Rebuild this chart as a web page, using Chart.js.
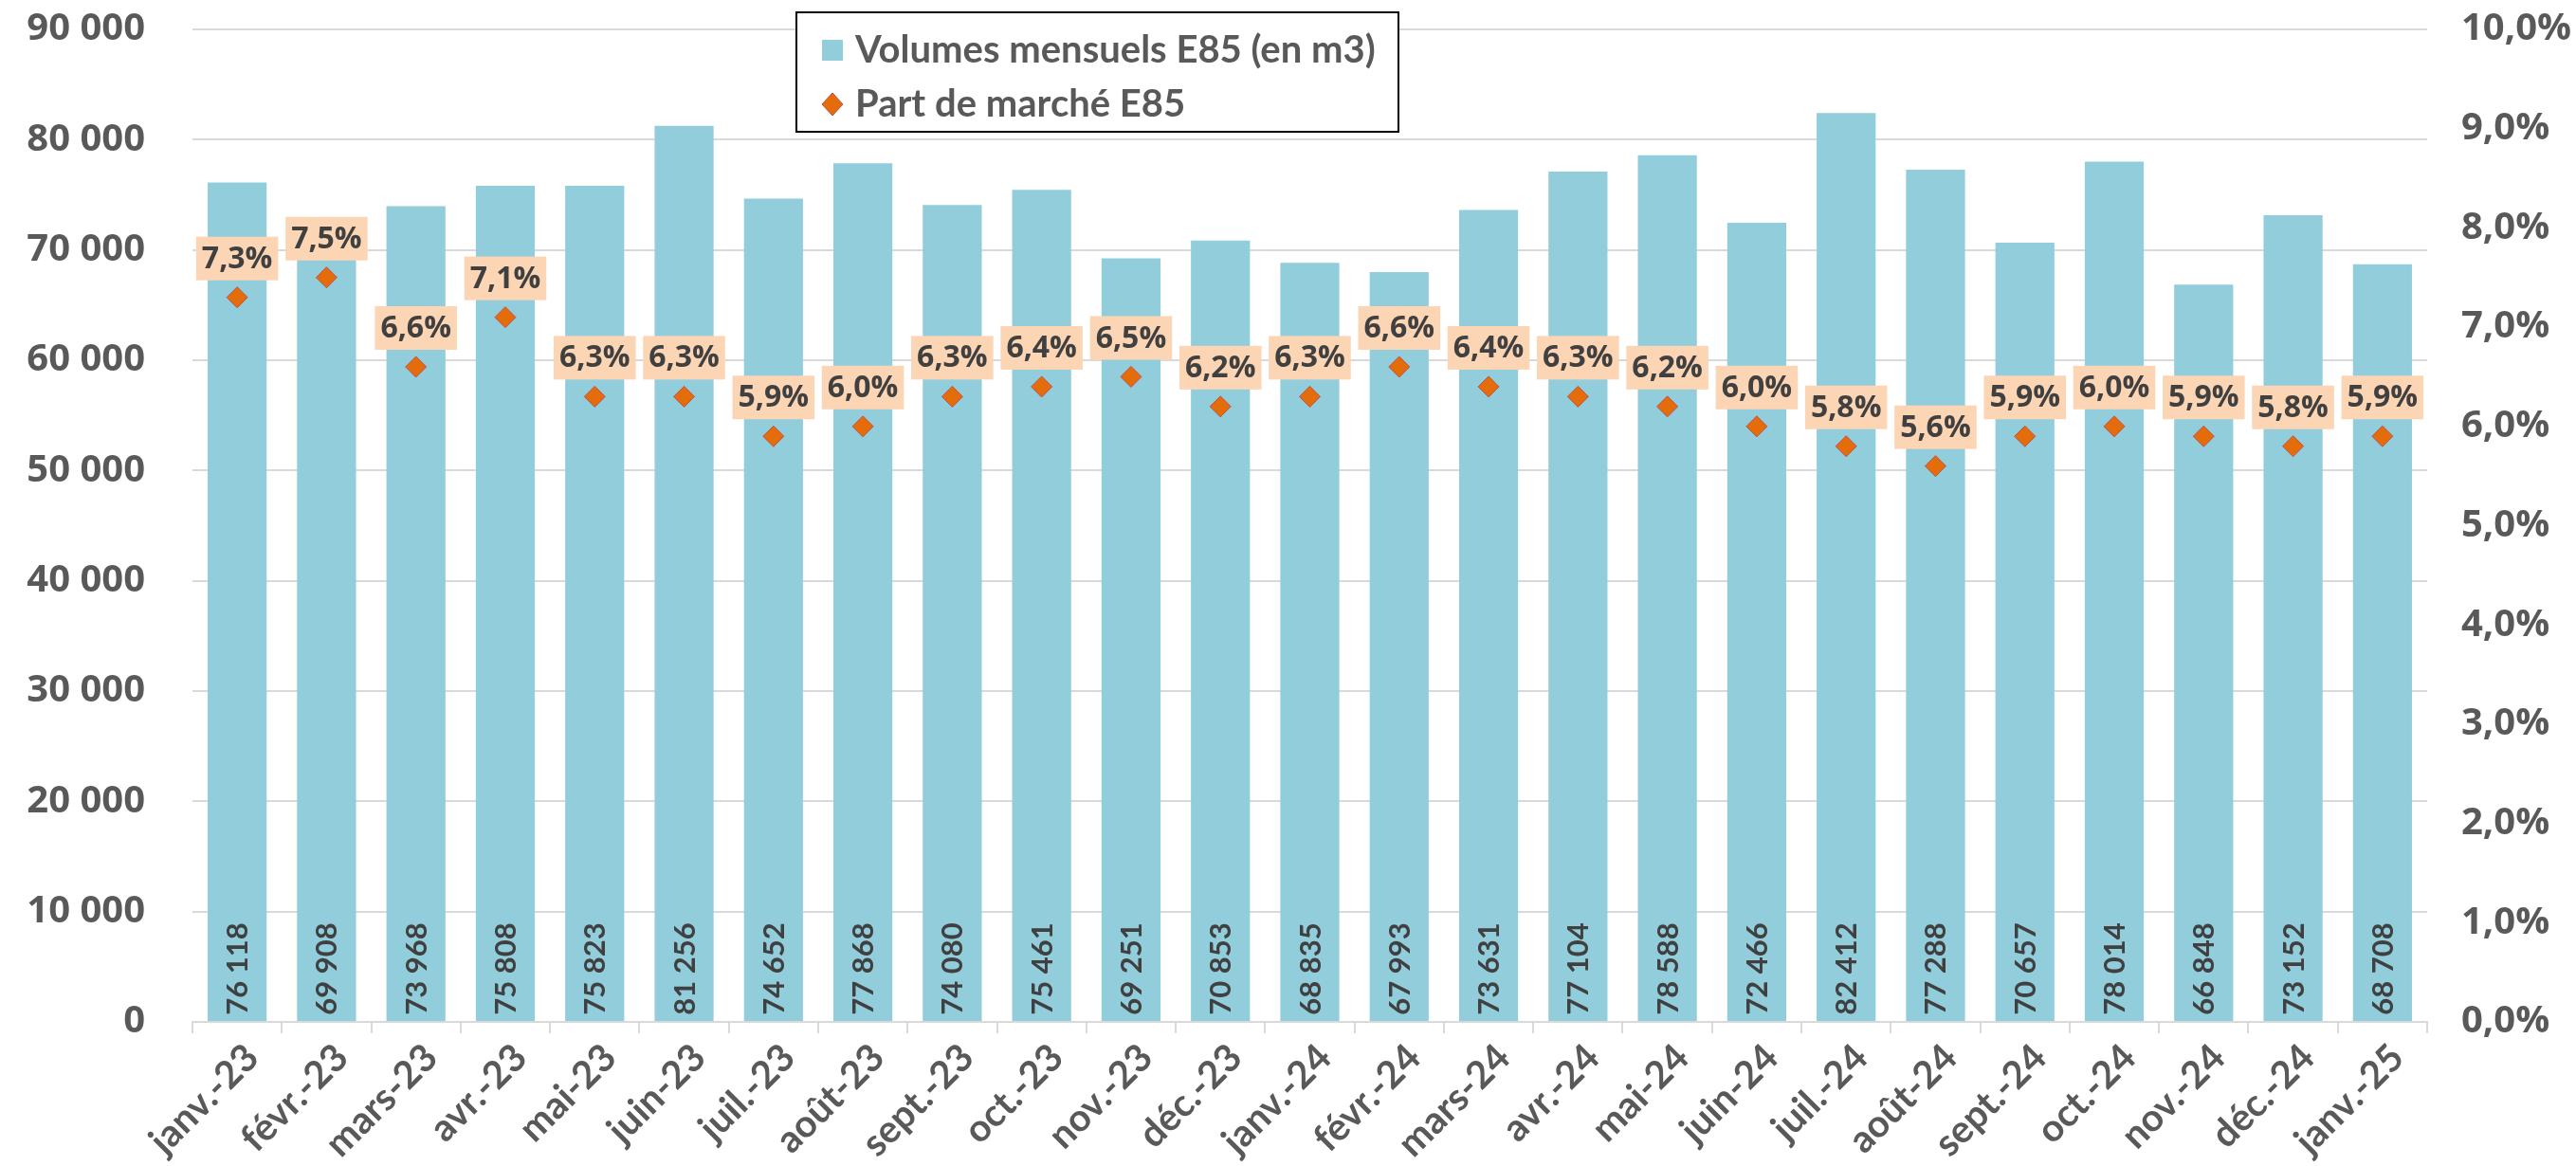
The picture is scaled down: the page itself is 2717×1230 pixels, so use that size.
<!DOCTYPE html>
<html lang="fr">
<head>
<meta charset="utf-8">
<title>E85 - volumes mensuels et part de marché</title>
<script src="https://cdn.jsdelivr.net/npm/chart.js@4/dist/chart.umd.min.js"></script>
<style>
    html, body { margin: 0; padding: 0; background: #fff; }
    #chart-wrap { width: 2717px; height: 1230px; }
</style>
</head>
<body>
<div id="chart-wrap"><canvas id="e85Chart" width="2717" height="1230"></canvas></div>
<script>
// Data
const months = [
    'janv.-23', 'févr.-23', 'mars-23', 'avr.-23', 'mai-23', 'juin-23',
    'juil.-23', 'août-23', 'sept.-23', 'oct.-23', 'nov.-23', 'déc.-23',
    'janv.-24', 'févr.-24', 'mars-24', 'avr.-24', 'mai-24', 'juin-24',
    'juil.-24', 'août-24', 'sept.-24', 'oct.-24', 'nov.-24', 'déc.-24',
    'janv.-25'
];
const volumes = [
    76118, 69908, 73968, 75808, 75823, 81256,
    74652, 77868, 74080, 75461, 69251, 70853,
    68835, 67993, 73631, 77104, 78588, 72466,
    82412, 77288, 70657, 78014, 66848, 73152,
    68708
];
const marketShare = [
    7.3, 7.5, 6.6, 7.1, 6.3, 6.3,
    5.9, 6.0, 6.3, 6.4, 6.5, 6.2,
    6.3, 6.6, 6.4, 6.3, 6.2, 6.0,
    5.8, 5.6, 5.9, 6.0, 5.9, 5.8,
    5.9
];
const volumeTicks = { min: 0, max: 90000, step: 10000 };
const shareTicks = { min: 0, max: 10, step: 1 };
const seriesNames = ['Volumes mensuels E85 (en m3)', 'Part de marché E85'];

const BAR_COLOR = '#92CDDC';
const POINT_COLOR = '#E46C0A';
const LABEL_BOX = '#FCD5B5';
const TEXT_DARK = '#404040';
const TEXT_GREY = '#595959';
const GRID = '#D9D9D9';

function fmtThousands(v) {
    return String(Math.round(v)).replace(/\B(?=(\d{3})+(?!\d))/g, ' ');
}

function fmtPct(v) {
    return v.toFixed(1).replace('.', ',') + '%';
}

// tick padding would otherwise push the plot top down
function noVerticalPadding(scale) {
    scale.paddingTop = 0;
    scale.paddingBottom = 0;
}

// Vertical volume labels near the bottom of each bar
const barValueLabels = {
    id: 'barValueLabels',
    afterDatasetsDraw(chart) {
        const ctx = chart.ctx;
        const meta = chart.getDatasetMeta(0);
        const yBase = chart.scales.y.getPixelForValue(0);
        ctx.save();
        ctx.font = 'bold 31px Lato';
        ctx.fillStyle = TEXT_DARK;
        ctx.textAlign = 'center';
        ctx.textBaseline = 'middle';
        meta.data.forEach((bar, i) => {
            ctx.save();
            ctx.translate(bar.x + 1, yBase - 56);
            ctx.rotate(-Math.PI / 2);
            ctx.fillText(fmtThousands(volumes[i]), 0, 0);
            ctx.restore();
        });
        ctx.restore();
    }
};

// Peach boxes with the market share above each diamond
const shareLabels = {
    id: 'shareLabels',
    afterDatasetsDraw(chart) {
        const ctx = chart.ctx;
        const meta = chart.getDatasetMeta(1);
        ctx.save();
        ctx.font = 'bold 32px "Open Sans"';
        ctx.textAlign = 'center';
        ctx.textBaseline = 'middle';
        meta.data.forEach((pt, i) => {
            const text = fmtPct(marketShare[i]);
            const w = ctx.measureText(text).width + 12;
            const h = 46;
            const cy = pt.y - 41;
            ctx.fillStyle = LABEL_BOX;
            ctx.fillRect(pt.x - w / 2, cy - h / 2, w, h);
            ctx.fillStyle = TEXT_DARK;
            ctx.fillText(text, pt.x, cy + 1);
        });
        ctx.restore();
    }
};

// Boxed legend sitting over the top of the plot
const boxedLegend = {
    id: 'boxedLegend',
    afterDraw(chart) {
        const ctx = chart.ctx;
        const box = { x: 840, y: 13, w: 635, h: 126 };
        ctx.save();
        ctx.fillStyle = '#fff';
        ctx.fillRect(box.x, box.y, box.w, box.h);
        ctx.strokeStyle = '#000';
        ctx.lineWidth = 2;
        ctx.strokeRect(box.x, box.y, box.w, box.h);

        ctx.font = 'bold 40px Lato';
        ctx.textAlign = 'left';
        ctx.textBaseline = 'middle';

        // row 1: bars
        const r1 = box.y + 40;
        ctx.fillStyle = BAR_COLOR;
        ctx.fillRect(box.x + 27, r1 - 11, 22, 22);
        ctx.fillStyle = TEXT_GREY;
        ctx.fillText(seriesNames[0], box.x + 62, r1);

        // row 2: diamond
        const r2 = box.y + 97;
        ctx.beginPath();
        ctx.moveTo(box.x + 38, r2 - 12);
        ctx.lineTo(box.x + 49, r2);
        ctx.lineTo(box.x + 38, r2 + 12);
        ctx.lineTo(box.x + 27, r2);
        ctx.closePath();
        ctx.fillStyle = POINT_COLOR;
        ctx.fill();
        ctx.strokeStyle = '#C0504D';
        ctx.lineWidth = 1;
        ctx.stroke();
        ctx.fillStyle = TEXT_GREY;
        ctx.fillText(seriesNames[1], box.x + 62, r2);
        ctx.restore();
    }
};

document.addEventListener('DOMContentLoaded', function() {
    const canvas = document.getElementById('e85Chart');

    new Chart(canvas, {
        type: 'bar',
        data: {
            labels: months,
            datasets: [{
                label: seriesNames[0],
                data: volumes,
                backgroundColor: BAR_COLOR,
                borderWidth: 0,
                categoryPercentage: 0.66,
                barPercentage: 1,
                yAxisID: 'y',
                order: 2
            }, {
                type: 'line',
                label: seriesNames[1],
                data: marketShare,
                showLine: false,
                pointStyle: 'rectRot',
                pointRadius: 11,
                backgroundColor: POINT_COLOR,
                borderColor: '#C0504D',
                borderWidth: 1,
                yAxisID: 'y1',
                order: 1
            }]
        },
        options: {
            responsive: false,
            animation: false,
            layout: { padding: { top: 31, left: 0, right: 0, bottom: 0 } },
            plugins: {
                legend: { display: false },
                tooltip: { enabled: false }
            },
            scales: {
                x: {
                    grid: {
                        drawOnChartArea: false,
                        drawTicks: true,
                        tickLength: 12,
                        color: GRID,
                        lineWidth: 2
                    },
                    border: { display: true, color: GRID, width: 2 },
                    ticks: {
                        autoSkip: false,
                        minRotation: 45,
                        maxRotation: 45,
                        padding: 2,
                        labelOffset: 16,
                        color: TEXT_GREY,
                        font: { family: 'Lato', size: 40, weight: 'bold' }
                    },
                    afterFit: scale => { scale.height = 152; }
                },
                y: {
                    position: 'left',
                    min: volumeTicks.min,
                    max: volumeTicks.max,
                    grid: { color: GRID, lineWidth: 2, drawTicks: false },
                    border: { display: false },
                    ticks: {
                        stepSize: volumeTicks.step,
                        padding: 50,
                        color: TEXT_GREY,
                        font: { family: 'Open Sans', size: 40, weight: 'bold' },
                        callback: v => fmtThousands(v)
                    },
                    afterFit: scale => { scale.width = 203; noVerticalPadding(scale); }
                },
                y1: {
                    position: 'right',
                    min: shareTicks.min,
                    max: shareTicks.max,
                    grid: { display: false, drawTicks: false },
                    border: { display: false },
                    ticks: {
                        stepSize: shareTicks.step,
                        padding: 36,
                        color: TEXT_GREY,
                        font: { family: 'Open Sans', size: 40, weight: 'bold' },
                        callback: v => fmtPct(v)
                    },
                    afterFit: scale => { scale.width = 157; noVerticalPadding(scale); }
                }
            }
        },
        plugins: [barValueLabels, shareLabels, boxedLegend]
    });
});
</script>
</body>
</html>
